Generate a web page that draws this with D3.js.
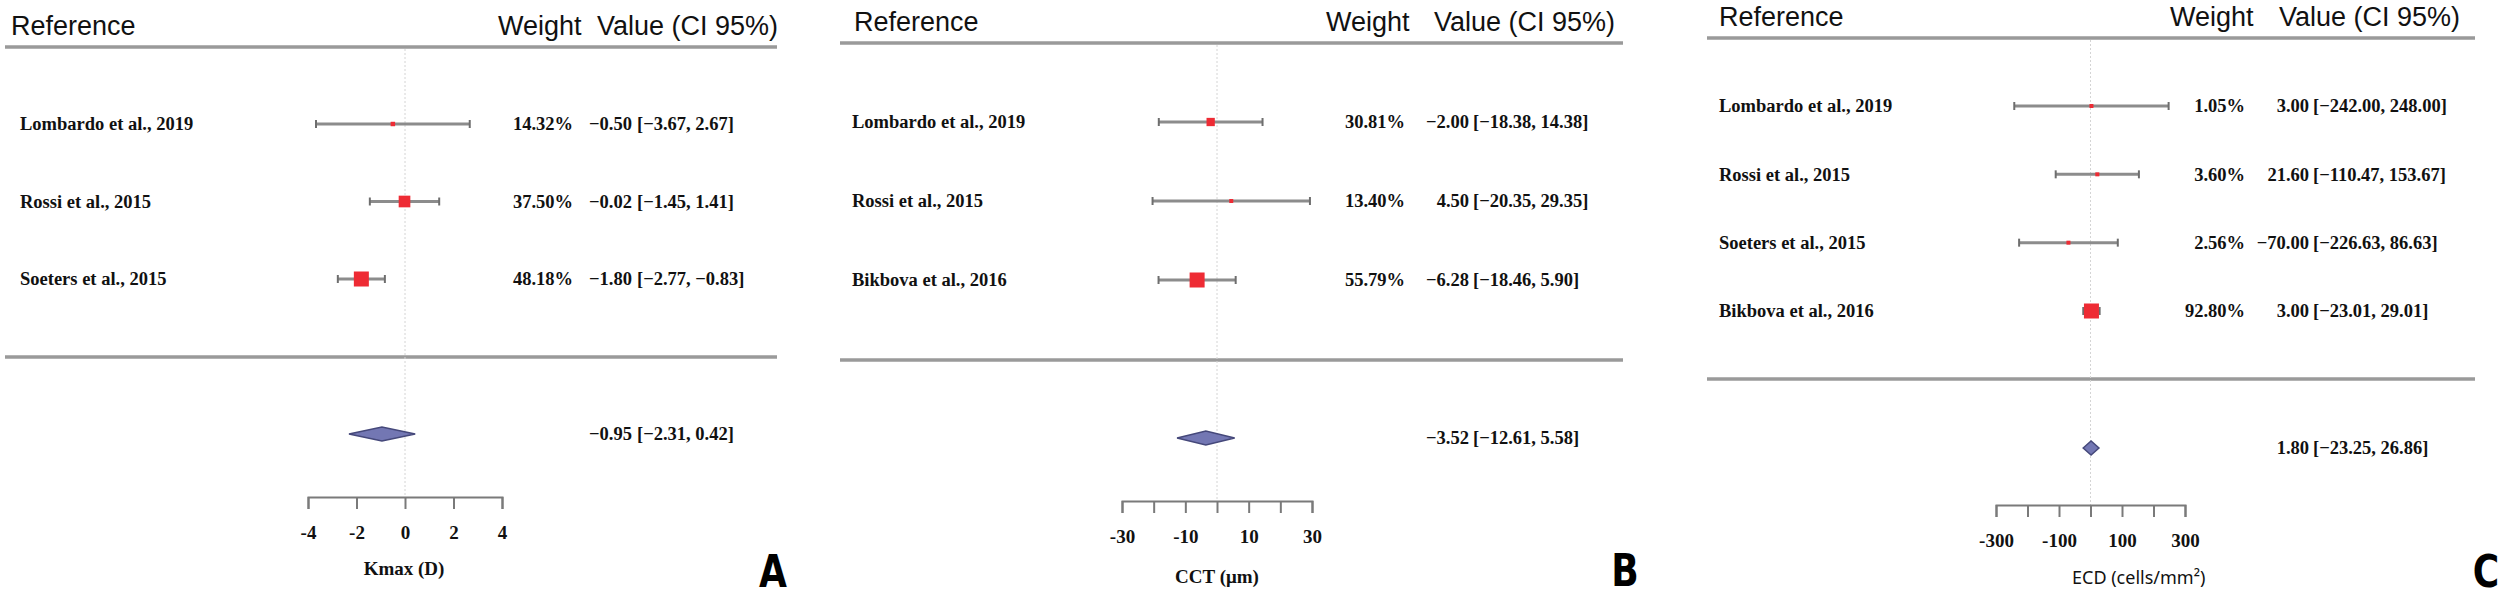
<!DOCTYPE html>
<html>
<head>
<meta charset="utf-8">
<script src="https://cdn.jsdelivr.net/npm/d3@7"></script>
<style>
  body { margin: 0; background: #fff; }
  svg { display: block; }
</style>
</head>
<body>
<div id="chart"></div>
<script>
const width = 2508,
    height = 600

// A : Kmax
const studiesA = ['Lombardo et al., 2019', 'Rossi et al., 2015', 'Soeters et al., 2015']
const weightsA = [14.32, 37.50, 48.18]
const estA = [-0.50, -0.02, -1.80]
const lowA = [-3.67, -1.45, -2.77]
const highA = [2.67, 1.41, -0.83]
const pooledA = [-0.95, -2.31, 0.42]
const ticksA = [-4, -2, 0, 2, 4]
const tickLabelsA = ['-4', '-2', '0', '2', '4']

// B : CCT
const studiesB = ['Lombardo et al., 2019', 'Rossi et al., 2015', 'Bikbova et al., 2016']
const weightsB = [30.81, 13.40, 55.79]
const estB = [-2.00, 4.50, -6.28]
const lowB = [-18.38, -20.35, -18.46]
const highB = [14.38, 29.35, 5.90]
const pooledB = [-3.52, -12.61, 5.58]
const ticksB = [-30, -20, -10, 0, 10, 20, 30]
const tickLabelsB = ['-30', '', '-10', '', '10', '', '30']

// C : ECD
const studiesC = ['Lombardo et al., 2019', 'Rossi et al., 2015', 'Soeters et al., 2015', 'Bikbova et al., 2016']
const weightsC = [1.05, 3.60, 2.56, 92.80]
const estC = [3.00, 21.60, -70.00, 3.00]
const lowC = [-242.00, -110.47, -226.63, -23.01]
const highC = [248.00, 153.67, 86.63, 29.01]
const pooledC = [1.80, -23.25, 26.86]
const ticksC = [-300, -200, -100, 0, 100, 200, 300]
const tickLabelsC = ['-300', '', '-100', '', '100', '', '300']

const serif = "'Liberation Serif', 'Times New Roman', serif"
const sans = "'Liberation Sans', Arial, sans-serif"

const panels = [
  { studies: studiesA, weights: weightsA, est: estA, low: lowA, high: highA, pooled: pooledA,
    ticks: ticksA, tickLabels: tickLabelsA, domain: [-4, 4], range: [308, 502],
    headY: 47, lineX: [5, 777], refX: 11, weightX: 498, valueX: 597, labelX: 20,
    rows: [124, 279], wRight: 573, estRight: 632, ciX: 637,
    sepY: 357, diaY: 434, axisY: 497,
    title: 'Kmax (D)', titleX: 404, titleY: 568, titleAnchor: 'middle',
    titleFont: serif, titleWeight: 'bold', titleSize: '19px',
    letter: 'A', letterX: 773, letterY: 587 },
  { studies: studiesB, weights: weightsB, est: estB, low: lowB, high: highB, pooled: pooledB,
    ticks: ticksB, tickLabels: tickLabelsB, domain: [-30, 30], range: [1122, 1312],
    headY: 43, lineX: [840, 1623], refX: 854, weightX: 1326, valueX: 1434, labelX: 852,
    rows: [122, 280], wRight: 1405, estRight: 1469, ciX: 1473,
    sepY: 360, diaY: 438, axisY: 501,
    title: 'CCT (μm)', titleX: 1217, titleY: 576, titleAnchor: 'middle',
    titleFont: serif, titleWeight: 'bold', titleSize: '19px',
    letter: 'B', letterX: 1625, letterY: 586 },
  { studies: studiesC, weights: weightsC, est: estC, low: lowC, high: highC, pooled: pooledC,
    ticks: ticksC, tickLabels: tickLabelsC, domain: [-300, 300], range: [1996, 2185],
    headY: 38, lineX: [1707, 2475], refX: 1719, weightX: 2170, valueX: 2279, labelX: 1719,
    rows: [106, 311], wRight: 2245, estRight: 2309, ciX: 2313,
    sepY: 379, diaY: 448, axisY: 505,
    title: 'ECD  (cells/mm²)', titleX: 2072, titleY: 578, titleAnchor: 'start',
    titleFont: "'Noto Sans', sans-serif", titleWeight: 'normal', titleSize: '18px',
    letter: 'C', letterX: 2486, letterY: 587 }
]

const svg = d3.select('#chart')
  .append('svg')
    .attr('width', width)
    .attr('height', height)
    .attr('viewBox', `0 0 ${width} ${height}`)

const fmt = d3.format('.2f')

function serifText(sel) {
  sel.style('font-family', serif)
    .style('font-weight', 'bold')
    .style('font-size', '18.5px')
    .style('fill', '#111')
}

panels.forEach(function(p) {
  const g = svg.append('g')
  const x = d3.scaleLinear().domain(p.domain).range(p.range)
  const y = d3.scalePoint().domain(p.studies).range(p.rows)
  const size = d3.scaleLinear().domain([0, d3.max(p.weights)]).range([0, 15])
  const rows = p.studies.map((s, i) => ({ name: s, w: p.weights[i], est: p.est[i], lo: p.low[i], hi: p.high[i] }))

  // header
  ;[['Reference', p.refX], ['Weight', p.weightX], ['Value (CI 95%)', p.valueX]].forEach(function(h) {
    g.append('text').text(h[0])
      .attr('x', h[1]).attr('y', p.headY - 12)
      .style('font-family', sans).style('font-size', '27px').style('fill', '#111')
  })

  // the rules
  ;[p.headY, p.sepY].forEach(function(ly) {
    g.append('line')
      .attr('x1', p.lineX[0]).attr('x2', p.lineX[1])
      .attr('y1', ly).attr('y2', ly)
      .attr('stroke', '#9a9a9a').attr('stroke-width', 3.5)
  })

  // zero line
  g.append('line')
    .attr('x1', x(0)).attr('x2', x(0))
    .attr('y1', p.headY + 2).attr('y2', p.axisY)
    .attr('stroke', '#d4d4d4').attr('stroke-width', 1)
    .attr('stroke-dasharray', '2,2')

  // study rows
  const row = g.selectAll('g.row')
    .data(rows)
    .join('g')
      .attr('class', 'row')
      .attr('transform', d => `translate(0, ${y(d.name)})`)

  row.append('text').text(d => d.name)
    .attr('x', p.labelX).attr('dy', '0.35em')
    .call(serifText)

  row.append('line')
    .attr('x1', d => x(d.lo)).attr('x2', d => x(d.hi))
    .attr('stroke', '#8c8c8c').attr('stroke-width', 3)

  row.selectAll('line.cap')
    .data(d => [d.lo, d.hi])
    .join('line')
      .attr('class', 'cap')
      .attr('x1', v => x(v)).attr('x2', v => x(v))
      .attr('y1', -4).attr('y2', 4)
      .attr('stroke', '#6e6e6e').attr('stroke-width', 2)

  row.append('rect')
    .attr('x', d => x(d.est) - Math.max(4, size(d.w)) / 2)
    .attr('y', d => -Math.max(4, size(d.w)) / 2)
    .attr('width', d => Math.max(4, size(d.w)))
    .attr('height', d => Math.max(4, size(d.w)))
    .attr('fill', '#ee2b34')

  row.append('text').text(d => fmt(d.w) + '%')
    .attr('x', p.wRight).attr('dy', '0.35em').attr('text-anchor', 'end')
    .call(serifText)

  row.append('text').text(d => fmt(d.est))
    .attr('x', p.estRight).attr('dy', '0.35em').attr('text-anchor', 'end')
    .call(serifText)

  row.append('text').text(d => '[' + fmt(d.lo) + ',  ' + fmt(d.hi) + ']')
    .attr('x', p.ciX).attr('dy', '0.35em')
    .call(serifText)

  // pooled diamond
  const [pe, plo, phi] = p.pooled
  g.append('path')
    .attr('d', `M${x(plo)},${p.diaY} L${x(pe)},${p.diaY - 7} L${x(phi)},${p.diaY} L${x(pe)},${p.diaY + 7} Z`)
    .attr('fill', '#7377b3')
    .attr('stroke', '#45487a')
    .attr('stroke-width', 1.5)

  g.append('text').text(fmt(pe))
    .attr('x', p.estRight).attr('y', p.diaY).attr('dy', '0.35em').attr('text-anchor', 'end')
    .call(serifText)
  g.append('text').text('[' + fmt(plo) + ',  ' + fmt(phi) + ']')
    .attr('x', p.ciX).attr('y', p.diaY).attr('dy', '0.35em')
    .call(serifText)

  // axis
  const axis = g.append('g')
    .attr('transform', `translate(0, ${p.axisY})`)
    .call(d3.axisBottom(x)
      .tickValues(p.ticks)
      .tickSize(12)
      .tickSizeOuter(12)
      .tickPadding(17)
      .tickFormat((d, i) => p.tickLabels[i]))
  axis.select('.domain').attr('stroke', '#7a7a7a').attr('stroke-width', 2)
  axis.selectAll('.tick line').attr('stroke', '#7a7a7a').attr('stroke-width', 2)
  axis.selectAll('.tick text')
    .style('font-family', serif).style('font-weight', 'bold').style('font-size', '19px').style('fill', '#111')

  g.append('text').text(p.title)
    .attr('x', p.titleX).attr('y', p.titleY).attr('dy', '0.35em').attr('text-anchor', p.titleAnchor)
    .style('font-family', p.titleFont).style('font-weight', p.titleWeight)
    .style('font-size', p.titleSize).style('fill', '#111')

  // panel letter
  g.append('text').text(p.letter)
    .attr('transform', `translate(${p.letterX}, ${p.letterY}) scale(0.82, 1)`)
    .attr('text-anchor', 'middle')
    .style('font-family', "'DejaVu Sans', sans-serif").style('font-weight', 'bold')
    .style('font-size', '44px').style('fill', '#000')
})
</script>
</body>
</html>
